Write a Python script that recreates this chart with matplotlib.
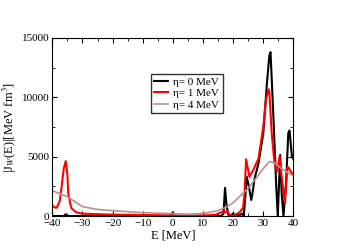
import numpy as np
import matplotlib
matplotlib.use('Agg')
import matplotlib.pyplot as plt
from matplotlib.ticker import MultipleLocator

# eta = 0 MeV
e0 = [-40, -36, -35.6, -35.2, -34, -1, 0, 0.3, 1, 16, 16.8, 17.3, 17.8, 18.5, 19, 20, 20.5,
      21, 22, 23, 23.5, 24, 24.5, 25.2, 26.0, 26.6, 27, 28.4, 30.0, 31.2, 32.0, 32.4, 33.4,
      34.3, 34.8, 35.6, 36.1, 36.7, 37.6, 38.3, 38.7, 39.5, 40]
j0 = [0, 0, 150, 0, 0, 0, 300, 50, 0, 0, 200, 2380, 900, 50, 0, 200, 0,
      150, 50, 200, 0, 1500, 3300, 2500, 1350, 2200, 3030, 4440, 6970, 11180, 13500, 13800, 8090,
      2470, 0, 5140, 1910, 0, 3030, 7000, 7200, 5000, 4800]

# eta = 1 MeV
e1 = [-40, -39, -38.5, -37.5, -36.9, -36.2, -35.55, -35.0, -34.7, -34, -33.6, -32.5, -31.9,
      -30, -25, -20, -10, 0, 5, 10, 14, 16, 17, 17.5, 18, 18.5, 19.5, 20.5, 21.5, 22.5, 23.3,
      23.8, 24.3, 25.4, 26.7, 28.4, 30, 30.9, 31.7, 32.0, 32.8, 33.6, 34.5, 35.4, 35.9, 36.5,
      37.2, 38.0, 38.6, 39.0, 40]
j1 = [870, 700, 700, 1300, 2470, 4000, 4630, 3500, 1910, 1000, 650, 400, 300,
      200, 150, 120, 80, 50, 30, 50, 100, 300, 400, 300, 450, 200, 0, 50, 200, 400, 700,
      2000, 4780, 3310, 3880, 4830, 7500, 9780, 10680, 10500, 6970, 4720, 3730, 5000, 3730, 2470,
      1070, 4150, 4000, 3800, 3400]

# eta = 4 MeV
e4 = [-40, -35, -30, -25, -20, -10, 0, 5, 10, 15, 18, 20, 25, 28, 30, 32, 34, 36, 38, 40]
j4 = [2135, 1630, 790, 550, 450, 280, 200, 150, 220, 450, 790, 1120, 2330, 3310, 4000, 4580,
      4440, 4000, 3680, 3370]

plt.rcParams['font.family'] = ['Liberation Serif', 'DejaVu Serif']
plt.rcParams['mathtext.fontset'] = 'stix'

fig = plt.figure(figsize=(3.51, 2.48), dpi=100)
ax = fig.add_axes([0.149, 0.129, 0.687, 0.718])

ax.plot(e0, j0, color='black', lw=1.5, label='η= 0 MeV')
ax.plot(e1, j1, color='red', lw=1.5, label='η= 1 MeV')
ax.plot(e4, j4, color='rosybrown', lw=1.2, label='η= 4 MeV')

ax.set_xlim(-40, 40)
ax.set_ylim(0, 15000)
ax.xaxis.set_major_locator(MultipleLocator(10))
ax.xaxis.set_minor_locator(MultipleLocator(5))
ax.yaxis.set_major_locator(MultipleLocator(5000))
ax.yaxis.set_minor_locator(MultipleLocator(2500))
ax.tick_params(which='both', direction='in', top=True, right=True, labelsize=8, pad=2)
ax.tick_params(which='major', length=3.5)
ax.tick_params(which='minor', length=2)

ax.set_xlabel('E [MeV]', fontsize=9, labelpad=1)
ax.set_ylabel(r'|J$_W$(E)|[MeV fm$^3$]', fontsize=9, labelpad=2)

leg = ax.legend(loc='upper left', bbox_to_anchor=(0.41, 0.80), fontsize=8, frameon=True,
                fancybox=False, edgecolor='black', handlelength=1.2, handletextpad=0.5,
                borderpad=0.3, labelspacing=0.15, borderaxespad=0)
leg.get_frame().set_linewidth(1.0)

fig.savefig('out.png', dpi=100)
